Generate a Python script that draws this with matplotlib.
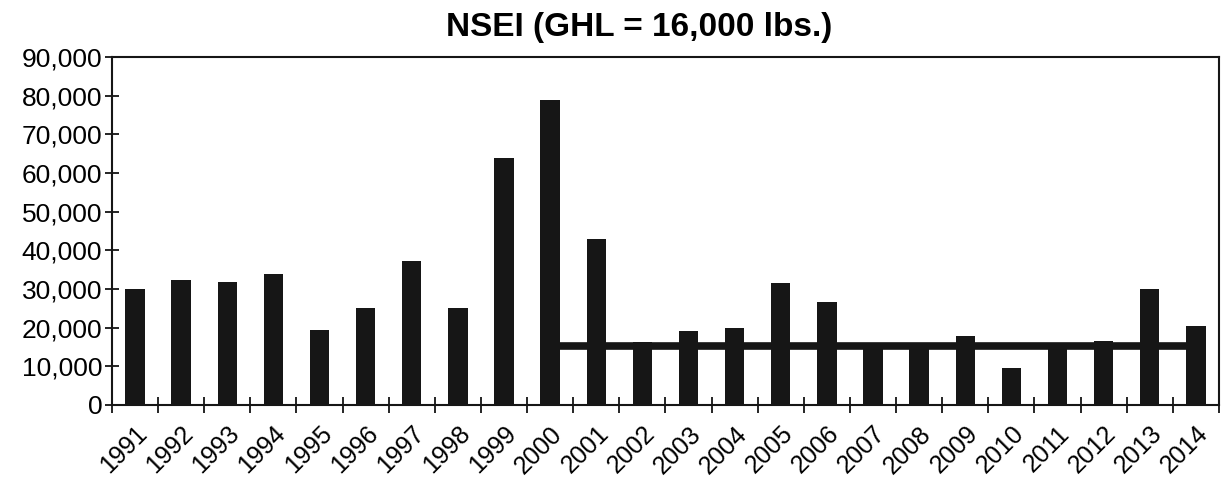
import numpy as np
import matplotlib.pyplot as plt
from matplotlib.ticker import FuncFormatter, FixedLocator

plt.rcParams['font.family'] = ['Liberation Sans', 'DejaVu Sans']

# NSEI landings by year, with the GHL reference line
years = [str(y) for y in range(1991, 2015)]
landings = [30000, 32200, 31900, 33800, 19300, 25000, 37300, 25200, 63800, 78900,
            42900, 16300, 19000, 20000, 31500, 26500, 16000, 15000, 17800, 9500,
            14800, 16500, 30000, 20300]
ghl_line = 15300
ghl_start, ghl_end = '2000', '2014'

fig = plt.figure(figsize=(12.3, 4.92), dpi=100)
ax = fig.add_axes([0.091, 0.177, 0.9, 0.707])

x = np.arange(len(years))
bw = 0.42
ax.bar(x, landings, width=bw, color='#161616', zorder=2)

# the GHL line runs from the right edge of the 2000 bar to the left edge of 2014
i0 = years.index(ghl_start) + bw / 2
i1 = years.index(ghl_end) - bw / 2
ax.hlines(ghl_line, i0, i1, color='#161616', linewidth=5.5, zorder=3)

ax.set_xlim(-0.5, len(years) - 0.5)
ax.set_ylim(0, 90000)
ax.set_yticks(np.arange(0, 90001, 10000))
ax.yaxis.set_major_formatter(FuncFormatter(lambda v, p: f'{int(v):,}'))
ax.tick_params(axis='y', direction='inout', length=10, width=1.2, labelsize=19, pad=2)

# tick marks between categories, labels under the bars
ax.xaxis.set_major_locator(FixedLocator(np.arange(0, len(years) + 1) - 0.5))
ax.xaxis.set_minor_locator(FixedLocator(x))
ax.tick_params(axis='x', which='major', direction='inout', length=12, width=1.2, labelbottom=False)
ax.tick_params(axis='x', which='minor', length=0, labelsize=18, pad=12)
ax.set_xticks(x, minor=True)
ax.set_xticklabels(years, minor=True, rotation=45, ha='right', rotation_mode='anchor')

for s in ax.spines.values():
    s.set_linewidth(1.5)
    s.set_color('#161616')

fig.text(0.52, 0.945, 'NSEI (GHL = 16,000 lbs.)', fontsize=24, fontweight='bold',
         ha='center', va='center')

fig.savefig('out.png', dpi=100)
